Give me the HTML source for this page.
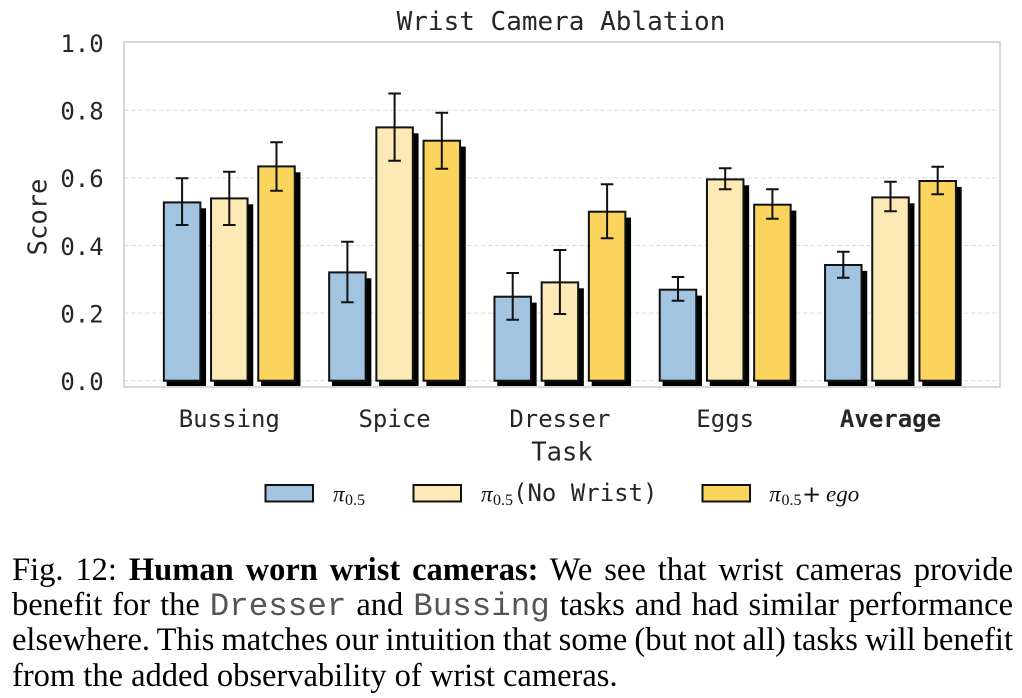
<!DOCTYPE html>
<html>
<head>
<meta charset="utf-8">
<style>
  html,body{margin:0;padding:0;background:#fff;}
  body{width:1022px;height:698px;position:relative;overflow:hidden;}
  svg{position:absolute;left:0;top:0;}
  .cap{position:absolute;left:12px;width:1001px;height:35px;line-height:34.7px;
       font-family:"Liberation Serif","Times New Roman",serif;font-size:32.5px;color:#000;
       word-spacing:-4px;text-align:justify;text-align-last:justify;white-space:nowrap;}
  .cap.last{text-align:left;text-align-last:left;word-spacing:0;}
  .m{font-family:"Liberation Mono","Courier New",monospace;color:#555;line-height:0;}
</style>
</head>
<body>
<svg width="1022" height="698" viewBox="0 0 1022 698" xmlns="http://www.w3.org/2000/svg">
  <style>
    .g{stroke:#dadada;stroke-width:1;stroke-dasharray:4.5 2.5;fill:none;}
    .s{fill:#000;}
    .b1{fill:#a2c4e0;stroke:#111;stroke-width:2;}
    .b2{fill:#fde9b5;stroke:#111;stroke-width:2;}
    .b3{fill:#fad45c;stroke:#111;stroke-width:2;}
    .e{stroke:#111;stroke-width:2;fill:none;}
    .t{font-family:"DejaVu Sans Mono",monospace;fill:#262626;}
  </style>
  <!-- title -->
  <text class="t" x="561" y="30" font-size="26" text-anchor="middle">Wrist Camera Ablation</text>

  <!-- gridlines -->
  <line class="g" x1="124" y1="380.7" x2="1000" y2="380.7"/>
  <line class="g" x1="124" y1="313.1" x2="1000" y2="313.1"/>
  <line class="g" x1="124" y1="245.5" x2="1000" y2="245.5"/>
  <line class="g" x1="124" y1="177.9" x2="1000" y2="177.9"/>
  <line class="g" x1="124" y1="110.3" x2="1000" y2="110.3"/>
  <!-- frame -->
  <rect x="124" y="42" width="876" height="345" fill="none" stroke="#cccccc" stroke-width="1.5"/>

  <!-- y tick labels -->
  <g class="t" font-size="24" text-anchor="end">
    <text x="103.7" y="390">0.0</text>
    <text x="103.7" y="322.4">0.2</text>
    <text x="103.7" y="254.8">0.4</text>
    <text x="103.7" y="187.2">0.6</text>
    <text x="103.7" y="119.6">0.8</text>
    <text x="103.7" y="52">1.0</text>
  </g>
  <text class="t" font-size="25.5" text-anchor="middle" transform="translate(46.5,217) rotate(-90)">Score</text>

  <!-- Bussing -->
  <rect class="s" x="166.65" y="208.3" width="39.4" height="177.7"/>
  <rect class="b1" x="163.85" y="202.4" width="36.5" height="178.3"/>
  <rect class="s" x="213.85" y="204.3" width="39.4" height="181.7"/>
  <rect class="b2" x="211.05" y="198.4" width="36.5" height="182.3"/>
  <rect class="s" x="261.05" y="172.3" width="39.4" height="213.7"/>
  <rect class="b3" x="258.25" y="166.4" width="36.5" height="214.3"/>
  <!-- Spice -->
  <rect class="s" x="331.95" y="278.3" width="39.4" height="107.7"/>
  <rect class="b1" x="329.15" y="272.4" width="36.5" height="108.3"/>
  <rect class="s" x="379.15" y="133.3" width="39.4" height="252.7"/>
  <rect class="b2" x="376.35" y="127.4" width="36.5" height="253.3"/>
  <rect class="s" x="426.35" y="146.6" width="39.4" height="239.4"/>
  <rect class="b3" x="423.55" y="140.7" width="36.5" height="240"/>
  <!-- Dresser -->
  <rect class="s" x="497.25" y="302.6" width="39.4" height="83.4"/>
  <rect class="b1" x="494.45" y="296.7" width="36.5" height="84"/>
  <rect class="s" x="544.45" y="288.3" width="39.4" height="97.7"/>
  <rect class="b2" x="541.65" y="282.4" width="36.5" height="98.3"/>
  <rect class="s" x="591.65" y="217.6" width="39.4" height="168.4"/>
  <rect class="b3" x="588.85" y="211.7" width="36.5" height="169"/>
  <!-- Eggs -->
  <rect class="s" x="662.55" y="295.6" width="39.4" height="90.4"/>
  <rect class="b1" x="659.75" y="289.7" width="36.5" height="91"/>
  <rect class="s" x="709.75" y="185.3" width="39.4" height="200.7"/>
  <rect class="b2" x="706.95" y="179.4" width="36.5" height="201.3"/>
  <rect class="s" x="756.95" y="210.6" width="39.4" height="175.4"/>
  <rect class="b3" x="754.15" y="204.7" width="36.5" height="176"/>
  <!-- Average -->
  <rect class="s" x="827.85" y="270.9" width="39.4" height="115.1"/>
  <rect class="b1" x="825.05" y="265" width="36.5" height="115.7"/>
  <rect class="s" x="875.05" y="203.3" width="39.4" height="182.7"/>
  <rect class="b2" x="872.25" y="197.4" width="36.5" height="183.3"/>
  <rect class="s" x="922.25" y="186.9" width="39.4" height="199.1"/>
  <rect class="b3" x="919.45" y="181" width="36.5" height="199.7"/>

  <!-- error bars -->
  <path class="e" d="M182.1 178.3V225M175.8 178.3H188.4M175.8 225H188.4"/>
  <path class="e" d="M229.3 171.7V225M223 171.7H235.6M223 225H235.6"/>
  <path class="e" d="M276.5 142.3V190.7M270.2 142.3H282.8M270.2 190.7H282.8"/>
  <path class="e" d="M347.4 241.7V302.3M341.1 241.7H353.7M341.1 302.3H353.7"/>
  <path class="e" d="M394.6 93.5V160.8M388.3 93.5H400.9M388.3 160.8H400.9"/>
  <path class="e" d="M441.8 112.7V168.7M435.5 112.7H448.1M435.5 168.7H448.1"/>
  <path class="e" d="M512.7 273V319.7M506.4 273H519M506.4 319.7H519"/>
  <path class="e" d="M559.9 250V314M553.6 250H566.2M553.6 314H566.2"/>
  <path class="e" d="M607.1 184.3V238.3M600.8 184.3H613.4M600.8 238.3H613.4"/>
  <path class="e" d="M678 277V300.7M671.7 277H684.3M671.7 300.7H684.3"/>
  <path class="e" d="M725.2 168.3V189.3M718.9 168.3H731.5M718.9 189.3H731.5"/>
  <path class="e" d="M772.4 189.3V218.7M766.1 189.3H778.7M766.1 218.7H778.7"/>
  <path class="e" d="M843.3 251.7V277.7M837 251.7H849.6M837 277.7H849.6"/>
  <path class="e" d="M890.5 181.7V211.3M884.2 181.7H896.8M884.2 211.3H896.8"/>
  <path class="e" d="M937.7 166.7V194.3M931.4 166.7H944M931.4 194.3H944"/>

  <!-- x tick labels -->
  <g class="t" font-size="24" text-anchor="middle">
    <text x="229.3" y="427">Bussing</text>
    <text x="394.6" y="427">Spice</text>
    <text x="559.9" y="427">Dresser</text>
    <text x="725.2" y="427">Eggs</text>
    <text x="890.5" y="427" font-weight="bold">Average</text>
  </g>
  <text class="t" x="562" y="460.5" font-size="25.5" text-anchor="middle">Task</text>

  <!-- legend -->
  <rect class="b1" x="265.5" y="485" width="47.5" height="16.5"/>
  <text x="333" y="501.5" font-family="Liberation Serif, serif" font-style="italic" font-size="23" fill="#111">π</text>
  <text x="345" y="505" font-family="Liberation Serif, serif" font-size="16" fill="#111">0.5</text>

  <rect class="b2" x="413.5" y="485" width="47.5" height="16.5"/>
  <text x="481" y="501.5" font-family="Liberation Serif, serif" font-style="italic" font-size="23" fill="#111">π</text>
  <text x="493" y="505" font-family="Liberation Serif, serif" font-size="16" fill="#111">0.5</text>
  <text class="t" x="513" y="501" font-size="24">(No Wrist)</text>

  <rect class="b3" x="702.5" y="485" width="47.5" height="16.5"/>
  <text x="769.3" y="501.5" font-family="Liberation Serif, serif" font-style="italic" font-size="23" fill="#111">π</text>
  <text x="781.5" y="505" font-family="Liberation Serif, serif" font-size="16" fill="#111">0.5</text>
  <text x="802" y="502" font-family="DejaVu Sans, sans-serif" font-size="23" fill="#111">+</text>
  <text x="826" y="501.5" font-family="Liberation Serif, serif" font-style="italic" font-size="23" fill="#111">ego</text>
</svg>

<div class="cap" style="top:552.7px">Fig. 12: <b>Human worn wrist cameras:</b> We see that wrist cameras provide</div>
<div class="cap" style="top:587.7px">benefit for the <span class="m">Dresser</span> and <span class="m">Bussing</span> tasks and had similar performance</div>
<div class="cap" style="top:623.2px">elsewhere. This matches our intuition that some (but not all) tasks will benefit</div>
<div class="cap last" style="top:658.7px">from the added observability of wrist cameras.</div>
</body>
</html>
